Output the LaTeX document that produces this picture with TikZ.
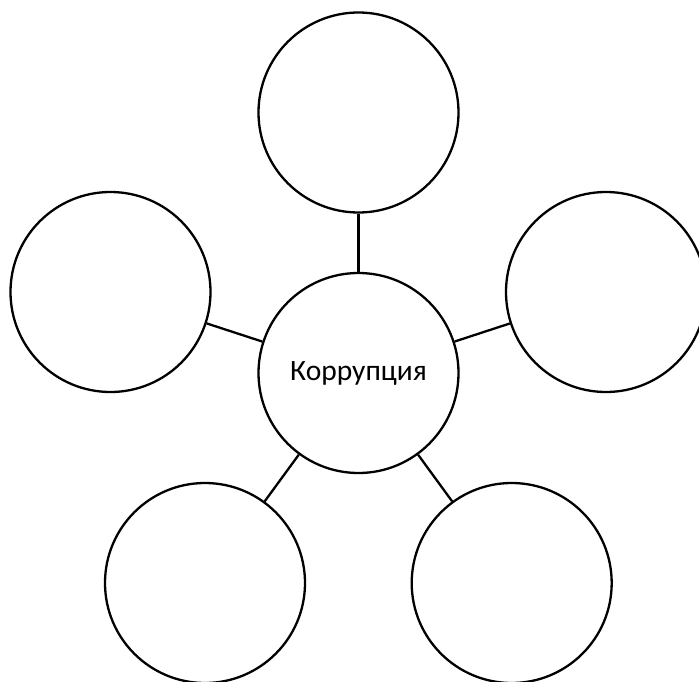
\documentclass[tikz,border=0pt]{standalone}
\usepackage{fontspec}
\setmainfont{Carlito}
\begin{document}
\begin{tikzpicture}[x=1pt,y=-1pt,
  bub/.style={circle,draw=black,line width=2.3pt,minimum size=200pt,inner sep=0pt,fill=white},
  link/.style={draw=black,line width=2.3pt}]
\useasboundingbox (0,0) rectangle (699,682);
\node[bub,font=\fontsize{29.5}{32}\selectfont] (c) at (358.5,373) {Коррупция};
\node[bub] (t) at (358.5,112.5) {};
\node[bub] (l) at (110.5,292) {};
\node[bub] (r) at (606,292) {};
\node[bub] (bl) at (205,583) {};
\node[bub] (br) at (511.7,583) {};
\draw[link] (c) -- (t);
\draw[link] (c) -- (l);
\draw[link] (c) -- (r);
\draw[link] (c) -- (bl);
\draw[link] (c) -- (br);
\end{tikzpicture}
\end{document}
